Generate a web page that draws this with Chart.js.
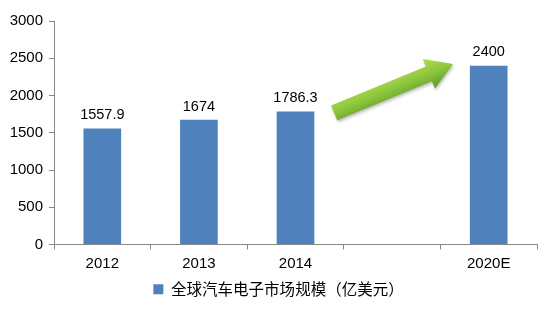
<!DOCTYPE html>
<html><head><meta charset="utf-8">
<script src="https://cdn.jsdelivr.net/npm/chart.js@4/dist/chart.umd.min.js"></script>
<style>html,body{margin:0;padding:0;background:#fff}#wrap{width:550px;height:309px}</style>
</head><body><div id="wrap"><canvas id="c" width="550" height="309"></canvas></div>
<script>
const categories = ['2012', '2013', '2014', '', '2020E'];
const marketSize = [1557.9, 1674, 1786.3, null, 2400];
const valueLabels = ['1557.9', '1674', '1786.3', '', '2400'];
const seriesName = '全球汽车电子市场规模（亿美元）';
const yTicks = [0, 500, 1000, 1500, 2000, 2500, 3000];
// arrow anchor in data space: [category index, value]
const arrowFrom = [2.4, 1768];
const arrowTo = [3.63, 2424];

const labelPlugin = {
  id: 'vlabels',
  afterDatasetsDraw(chart) {
    const ctx = chart.ctx;
    const meta = chart.getDatasetMeta(0);
    ctx.save();
    ctx.font = '14.5px "Liberation Sans", Arial, sans-serif';
    ctx.fillStyle = '#000';
    ctx.textAlign = 'center';
    ctx.textBaseline = 'bottom';
    meta.data.forEach((el, i) => {
      if (marketSize[i] == null) return;
      ctx.fillText(valueLabels[i], el.x, el.y - 6);
    });
    ctx.restore();
  }
};

const arrowPlugin = {
  id: 'arrow',
  afterLayout(chart) {
    if (chart.legend) {
      chart.legend.left += 10; chart.legend.right += 10;
      chart.legend.top -= 2; chart.legend.bottom -= 2;
    }
  },
  afterDatasetsDraw(chart) {
    const xs = chart.scales.x, ys = chart.scales.y;
    const px = v => {
      const a = xs.getPixelForValue(Math.floor(v)), b = xs.getPixelForValue(Math.floor(v) + 1);
      return a + (b - a) * (v - Math.floor(v));
    };
    const x1 = px(arrowFrom[0]), y1 = ys.getPixelForValue(arrowFrom[1]);
    const x2 = px(arrowTo[0]), y2 = ys.getPixelForValue(arrowTo[1]);
    const ang = Math.atan2(y2 - y1, x2 - x1);
    const len = Math.hypot(x2 - x1, y2 - y1);
    const sw = 8, hw = 16, hl = 26;
    const ctx = chart.ctx;
    ctx.save();
    ctx.translate(x1, y1);
    ctx.rotate(ang);
    const g = ctx.createLinearGradient(0, -hw, 0, hw);
    g.addColorStop(0, '#b5dc4a');
    g.addColorStop(0.5, '#8cc63f');
    g.addColorStop(1, '#5f9a1e');
    ctx.shadowColor = 'rgba(0,0,0,0.25)';
    ctx.shadowBlur = 3;
    ctx.shadowOffsetX = 1;
    ctx.shadowOffsetY = 2;
    ctx.beginPath();
    ctx.moveTo(0, -sw);
    ctx.lineTo(len - hl, -sw);
    ctx.lineTo(len - hl, -hw);
    ctx.lineTo(len, 0);
    ctx.lineTo(len - hl, hw);
    ctx.lineTo(len - hl, sw);
    ctx.lineTo(0, sw);
    ctx.closePath();
    ctx.fillStyle = g;
    ctx.fill();
    ctx.restore();
  }
};

new Chart(document.getElementById('c'), {
  type: 'bar',
  data: {
    labels: categories,
    datasets: [{
      label: seriesName,
      data: marketSize,
      backgroundColor: '#4f81bd',
      barPercentage: 0.39,
      categoryPercentage: 1.0
    }]
  },
  options: {
    responsive: false,
    animation: false,
    devicePixelRatio: 1,
    layout: { padding: { top: 21, right: 13, left: 0, bottom: 0 } },
    plugins: {
      legend: {
        position: 'bottom',
        labels: {
          boxWidth: 10, boxHeight: 10, padding: 6,
          color: '#000',
          font: { family: '"Noto Sans CJK SC", sans-serif', size: 15.5 }
        }
      },
      tooltip: { enabled: false }
    },
    scales: {
      x: {
        grid: { offset: true, drawOnChartArea: false, drawTicks: true, tickLength: 5, color: '#868686' },
        border: { color: '#868686' },
        ticks: { color: '#000', padding: 5, font: { family: '"Liberation Sans", Arial, sans-serif', size: 15 } }
      },
      y: {
        min: 0, max: 3000,
        afterBuildTicks(axis) { axis.ticks = yTicks.map(v => ({ value: v })); },
        afterFit(axis) { axis.width = 54; },
        grid: { drawOnChartArea: false, drawTicks: true, tickLength: 5, color: '#868686' },
        border: { color: '#868686' },
        ticks: { color: '#000', padding: 6, callback: v => String(v), font: { family: '"Liberation Sans", Arial, sans-serif', size: 15 } }
      }
    }
  },
  plugins: [labelPlugin, arrowPlugin]
});
</script></body></html>
